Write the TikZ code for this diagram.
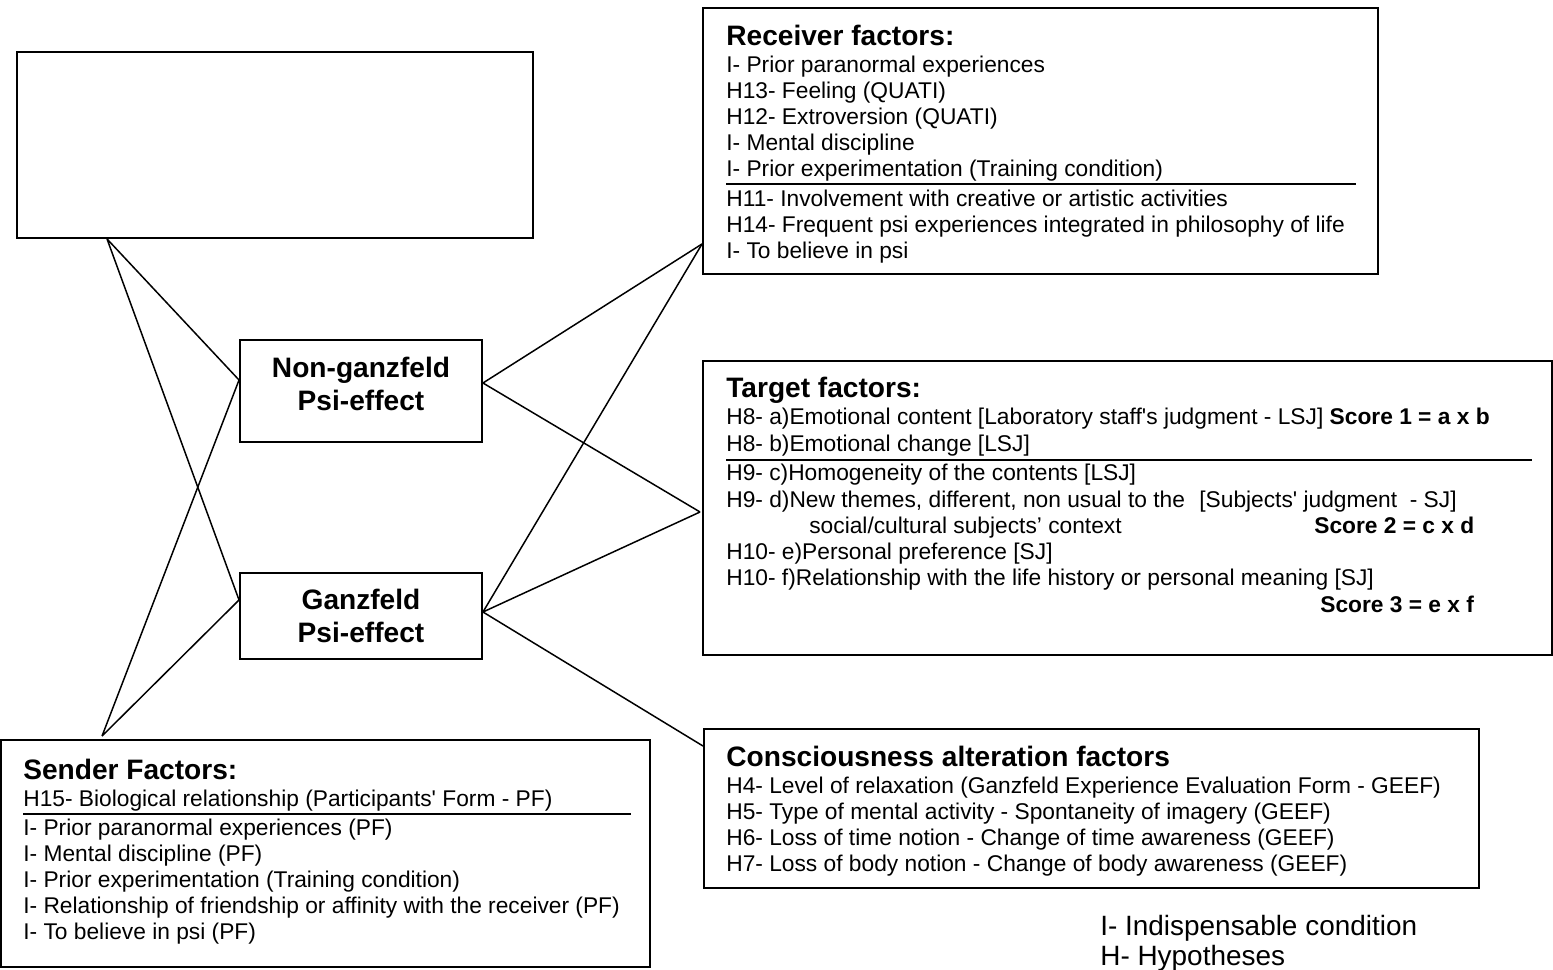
\documentclass[tikz,border=0pt]{standalone}
\usepackage{fontspec}
\setmainfont{Liberation Sans}
\usetikzlibrary{calc,fit}

\tikzset{
  box/.style={draw, line width=1.1pt, inner sep=0pt},
  effect/.style={align=center, inner sep=0pt, font=\bfseries\fontsize{16}{18.7}\selectfont},
  head/.style={anchor=base west, inner sep=0pt, font=\bfseries\fontsize{16}{18}\selectfont},
  factor/.style={anchor=base west, inner sep=0pt, font=\fontsize{12.95}{15}\selectfont},
  score/.style={factor, font=\bfseries\fontsize{12.95}{15}\selectfont},
  legend/.style={anchor=base west, inner sep=0pt, font=\fontsize{15.9}{18}\selectfont},
  link/.style={line width=0.85pt},
  sepline/.style={line width=0.6pt}
}

\begin{document}
\begin{tikzpicture}[x=0.02cm, y=-0.02cm]
  \useasboundingbox (0,0) rectangle (1553,970);

  % boxes
  \node[box, fit={(17,52) (533,238)}] (blank) {};
  \node[box, fit={(240,340) (482,442)}] (nong) {};
  \node[box, fit={(240,573) (482,659)}] (gz) {};
  \node[box, fit={(703,8) (1378,274)}] (recv) {};
  \node[box, fit={(703,361) (1552,655)}] (tgt) {};
  \node[box, fit={(704,729) (1479,888)}] (cons) {};
  \node[box, fit={(1,740) (650,967)}] (send) {};

  % psi effects
  \node[effect] (nongt) at (361,384) {Non-ganzfeld\\Psi-effect};
  \node[effect] (gzt) at (361,616) {Ganzfeld\\Psi-effect};

  % receiver
  \node[head] (recvh) at (726,45) {Receiver factors:};
  \foreach \t [count=\i] in {{I- Prior paranormal experiences},
                             {H13- Feeling (QUATI)},
                             {H12- Extroversion (QUATI)},
                             {I- Mental discipline},
                             {I- Prior experimentation (Training condition)}}
    \node[factor] (recva\i) at (726,46.5+26*\i) {\t};
  \draw[sepline] (726,184) -- (1356,184);
  \foreach \t [count=\i] in {{H11- Involvement with creative or artistic activities},
                             {H14- Frequent psi experiences integrated in philosophy of life},
                             {I- To believe in psi}}
    \node[factor] (recvb\i) at (726,180.5+26*\i) {\t};

  % target
  \node[head] (tgth) at (726,397) {Target factors:};
  \node[factor] (tgta1) at (726,424.5) {H8- a)Emotional content [Laboratory staff\textquotesingle s judgment - LSJ] \textbf{Score 1 = a x b}};
  \node[factor] (tgta2) at (726,451.5) {H8- b)Emotional change [LSJ]};
  \draw[sepline] (726,460) -- (1532,460);
  \node[factor] (tgtb1) at (726,480.5) {H9- c)Homogeneity of the contents [LSJ]};
  \node[factor] (tgtb2) at (726,507.5) {H9- d)New themes, different, non usual to the};
  \node[factor] (tgtsj) at (1199,507.5) {[Subjects\textquotesingle\ judgment\ \ - SJ]};
  \node[factor] (tgtb3) at (809,533.5) {social/cultural subjects' context};
  \node[score] (score2) at (1314,533.5) {Score 2 = c x d};
  \node[factor] (tgtb4) at (726,559.5) {H10- e)Personal preference [SJ]};
  \node[factor] (tgtb5) at (726,585.5) {H10- f)Relationship with the life history or personal meaning [SJ]};
  \node[score] (score3) at (1320,612.5) {Score 3 = e x f};

  % consciousness
  \node[head] (consh) at (726,766) {Consciousness alteration factors};
  \foreach \t [count=\i] in {{H4- Level of relaxation (Ganzfeld Experience Evaluation Form - GEEF)},
                             {H5- Type of mental activity - Spontaneity of imagery (GEEF)},
                             {H6- Loss of time notion - Change of time awareness (GEEF)},
                             {H7- Loss of body notion - Change of body awareness (GEEF)}}
    \node[factor] (cons\i) at (726,767.5+26*\i) {\t};

  % sender
  \node[head] (sendh) at (23,779) {Sender Factors:};
  \node[factor] (senda) at (23,806.5) {H15- Biological relationship (Participants\textquotesingle\ Form - PF)};
  \draw[sepline] (23,814) -- (631,814);
  \foreach \t [count=\i] in {{I- Prior paranormal experiences (PF)},
                             {I- Mental discipline (PF)},
                             {I- Prior experimentation (Training condition)},
                             {I- Relationship of friendship or affinity with the receiver (PF)},
                             {I- To believe in psi (PF)}}
    \node[factor] (sendb\i) at (23,809.5+26*\i) {\t};

  % legend
  \node[legend] (legi) at (1100,935) {I- Indispensable condition};
  \node[legend] (legh) at (1100,965) {H- Hypotheses};

  % connectors
  \coordinate (bj) at ($(blank.south west)+(91,0)$);
  \coordinate (sj) at ($(send.north west)+(102,-3)$);
  \coordinate (ngw) at ($(nong.west)+(0,-11)$);
  \coordinate (gzw) at ($(gz.west)+(0,-16)$);
  \coordinate (nge) at ($(nong.east)+(0,-8)$);
  \coordinate (gze) at ($(gz.east)+(0,-4)$);
  \coordinate (rj) at ($(recv.south west)+(0,-31)$);
  \coordinate (tj) at ($(tgt.west)+(-2,4)$);
  \coordinate (cj) at ($(cons.north west)+(0,18)$);

  \draw[link] (bj) -- (ngw) (bj) -- (gzw);
  \draw[link] (sj) -- (ngw) (sj) -- (gzw);
  \draw[link] (nge) -- (rj) (nge) -- (tj);
  \draw[link] (gze) -- (rj) (gze) -- (tj) (gze) -- (cj);
\end{tikzpicture}
\end{document}
